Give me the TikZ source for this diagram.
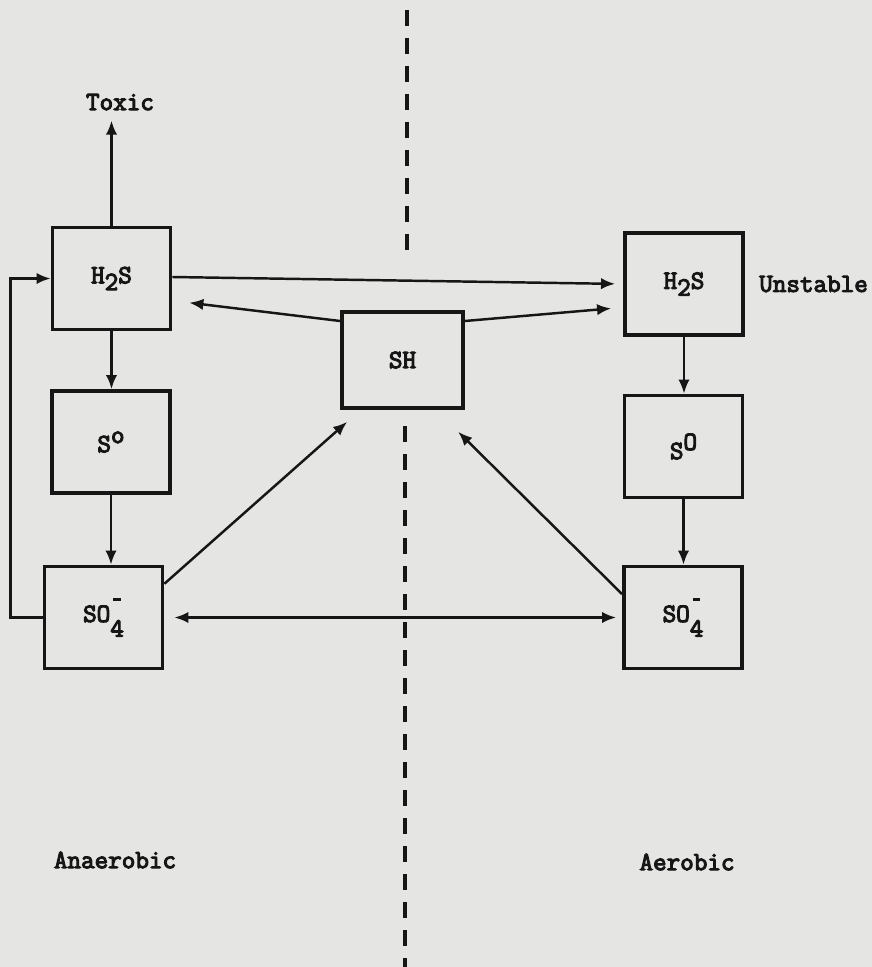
\documentclass[tikz,border=0pt]{standalone}
\usepackage{fontspec}
\newfontfamily\typew{Latin Modern Mono}[FakeBold=4]
\usetikzlibrary{positioning,arrows.meta}
\definecolor{paper}{RGB}{229,229,227}
\definecolor{ink}{RGB}{22,22,22}
\newcommand{\sub}[1]{\raisebox{-.6ex}{#1}}
\newcommand{\sulf}{SO\raisebox{-1.3ex}{4}\llap{\raisebox{1.85ex}{\rule{.28em}{1.5pt}}\hspace{.12em}}}
\begin{document}
\begin{tikzpicture}[x=0.02cm,y=-0.02cm,>={Latex[length=8pt,width=6.5pt]},
    every node/.style={font=\fontsize{15}{17}\typew,text=ink},
    box/.style={draw=ink,line width=2.2pt,minimum width=2.36cm,minimum height=2.04cm,inner sep=0pt},
    lbl/.style={inner sep=0pt},
    arr/.style={draw=ink,line width=1.4pt,->},
    divider/.style={draw=ink,line width=2pt,dash pattern=on 0.32cm off 0.24cm}]
    \useasboundingbox[fill=paper] (0,0) rectangle (872,967);
    % the dividing line
    \draw[divider] (407,10) -- (407,256);
    \draw[divider] (405,426) -- (405,967);
    % anaerobic side
    \node[box] (lh2s) at (111.5,278.5) {H\sub{2}S};
    \node[box] (ls0) at (111,442) {S\raisebox{.8ex}{o}};
    \node[box] (lso4) at (103.5,617.5) {\sulf};
    \node[lbl,above=2.3cm of lh2s,xshift=0.17cm] (toxic) {Toxic};
    % aerobic side
    \node[box] (rh2s) at (684,284) {H\sub{2}S};
    \node[box] (rs0) at (683.5,446.5) {S\raisebox{.8ex}{O}};
    \node[box] (rso4) at (683,617.5) {\sulf};
    \node[lbl,right=0.28cm of rh2s] (unst) {Unstable};
    % middle
    \node[box,minimum width=2.42cm,minimum height=1.92cm] (sh) at (402.5,360) {SH};
    \node[lbl] (anaer) at (115,860) {Anaerobic};
    \node[lbl] (aer) at (687,862) {Aerobic};
    % connectors
    \draw[arr,shorten >=0.2cm] (lh2s.north) -- (lh2s.north |- toxic.south);
    \draw[arr] (lh2s.south) -- (lh2s.south |- ls0.north);
    \draw[arr] (ls0.south) -- (ls0.south |- lso4.north);
    \draw[arr] (rh2s.south) -- (rh2s.south |- rs0.north);
    \draw[arr] (rs0.south) -- (rs0.south |- rso4.north);
    \draw[arr] (lso4.west) -- ++(-32,0) |- (lh2s.west);
    \draw[arr,shorten >=0.16cm] ([yshift=0.03cm]lh2s.east) -- (rh2s.west);
    \draw[arr,shorten >=0.34cm] (sh.148) -- (lh2s.340);
    \draw[arr,shorten >=0.24cm] (sh.32) -- (rh2s.201);
    \draw[arr,shorten >=0.36cm] (lso4.29) -- (sh.230);
    \draw[arr,shorten >=0.62cm] (rso4.159) -- (sh.304);
    \draw[arr,<->,shorten <=0.2cm,shorten >=0.12cm] (lso4.east) -- (rso4.west);
\end{tikzpicture}
\end{document}
